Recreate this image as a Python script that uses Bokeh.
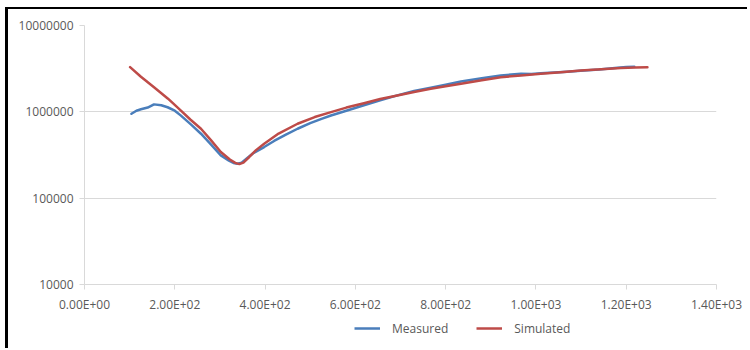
from bokeh.plotting import figure
from bokeh.layouts import column
from bokeh.models import (FixedTicker, NumeralTickFormatter, Legend, LegendItem,
                          ColumnDataSource, Range1d)
from bokeh.embed import file_html
from bokeh.resources import INLINE

# Measured data
meas_x = [104, 115, 125, 140, 154, 170, 184, 200, 213, 235, 258, 280, 302, 320, 330,
          339, 348, 360, 375, 398, 420, 445, 472, 500, 525, 546, 580, 619, 655, 693,
          730, 767, 800, 834, 880, 922, 967, 990, 1011, 1040, 1070, 1099, 1140, 1181,
          1200, 1218]
meas_y = [9.5e5, 1.03e6, 1.07e6, 1.12e6, 1.22e6, 1.19e6, 1.13e6, 1.03e6, 9.1e5, 7.2e5,
          5.58e5, 4.2e5, 3.13e5, 2.72e5, 2.56e5, 2.51e5, 2.58e5, 2.9e5, 3.35e5, 3.91e5,
          4.6e5, 5.4e5, 6.37e5, 7.4e5, 8.3e5, 9.08e5, 1.03e6, 1.19e6, 1.36e6, 1.55e6,
          1.74e6, 1.90e6, 2.06e6, 2.25e6, 2.45e6, 2.64e6, 2.76e6, 2.74e6, 2.80e6, 2.86e6,
          2.92e6, 3.0e6, 3.1e6, 3.25e6, 3.3e6, 3.33e6]

# Simulated data
sim_x = [101, 125, 154, 185, 213, 235, 258, 280, 302, 322, 334, 343, 352, 365, 380,
         398, 430, 472, 510, 546, 580, 619, 655, 693, 730, 767, 800, 834, 880, 922,
         967, 1011, 1055, 1099, 1145, 1188, 1220, 1247]
sim_y = [3.29e6, 2.55e6, 1.93e6, 1.42e6, 1.04e6, 8.1e5, 6.37e5, 4.7e5, 3.42e5, 2.8e5,
         2.56e5, 2.48e5, 2.58e5, 3.0e5, 3.6e5, 4.28e5, 5.6e5, 7.28e5, 8.7e5, 9.93e5,
         1.12e6, 1.26e6, 1.41e6, 1.55e6, 1.70e6, 1.85e6, 1.98e6, 2.11e6, 2.32e6, 2.52e6,
         2.64e6, 2.76e6, 2.88e6, 3.01e6, 3.11e6, 3.21e6, 3.26e6, 3.29e6]

x_ticks = [0, 200, 400, 600, 800, 1000, 1200, 1400]
x_labels = ["0.00E+00", "2.00E+02", "4.00E+02", "6.00E+02", "8.00E+02",
            "1.00E+03", "1.20E+03", "1.40E+03"]
y_ticks = [1e4, 1e5, 1e6, 1e7]

series_names = ["Measured", "Simulated"]
series_colors = ["#4A7EBB", "#BE4B48"]

FONT = "Open Sans"
TXT = "#595959"
GRID = "#d9d9d9"

src_m = ColumnDataSource(dict(x=meas_x, y=meas_y))
src_s = ColumnDataSource(dict(x=sim_x, y=sim_y))

# main chart
p = figure(width=742, height=306, y_axis_type="log",
           x_range=Range1d(0, 1400), y_range=Range1d(1e4, 1e7),
           output_backend="svg", toolbar_location=None,
           min_border_left=76, min_border_right=34, min_border_top=16,
           min_border_bottom=31)
p.styles = {"margin-left": "5px", "margin-top": "7px",
            "border-left": "3px solid black", "border-top": "2px solid black"}
p.outline_line_color = None
p.background_fill_color = "white"
p.border_fill_color = "white"

p.xgrid.grid_line_color = None
p.ygrid.grid_line_color = GRID
p.ygrid.grid_line_width = 1

for ax in (p.xaxis[0], p.yaxis[0]):
    ax.axis_line_color = GRID
    ax.major_tick_line_color = GRID
    ax.major_tick_out = 5
    ax.major_tick_in = 0
    ax.minor_tick_line_color = None
    ax.major_label_text_font = FONT
    ax.major_label_text_font_size = "12px"
    ax.major_label_text_color = TXT

p.xaxis[0].ticker = FixedTicker(ticks=x_ticks)
p.xaxis[0].major_label_overrides = {t: l for t, l in zip(x_ticks, x_labels)}
p.xaxis[0].major_label_standoff = 6
p.yaxis[0].ticker = FixedTicker(ticks=y_ticks)
p.yaxis[0].formatter = NumeralTickFormatter(format="0")
p.yaxis[0].major_label_standoff = 6

p.line("x", "y", source=src_m, line_color=series_colors[0], line_width=2.5,
       line_join="round", line_cap="round")
p.line("x", "y", source=src_s, line_color=series_colors[1], line_width=2.5,
       line_join="round", line_cap="round")

# legend strip below the chart
q = figure(width=742, height=35, x_range=Range1d(0, 1), y_range=Range1d(0, 1),
           output_backend="svg", toolbar_location=None,
           x_axis_location=None, y_axis_location=None,
           min_border=0, min_border_left=0, min_border_right=0,
           min_border_top=0, min_border_bottom=0)
q.styles = {"margin-left": "5px", "border-left": "3px solid black"}
q.outline_line_color = None
q.xgrid.grid_line_color = None
q.ygrid.grid_line_color = None
q.background_fill_color = "white"
q.border_fill_color = "white"
lm = q.line("x", "y", source=src_m, line_color=series_colors[0], line_width=2.5)
ls = q.line("x", "y", source=src_s, line_color=series_colors[1], line_width=2.5)

legend = Legend(items=[LegendItem(label=series_names[0], renderers=[lm]),
                       LegendItem(label=series_names[1], renderers=[ls])],
                orientation="horizontal", location=(270, 10),
                border_line_color=None, background_fill_alpha=0,
                label_text_font=FONT, label_text_font_size="12px",
                label_text_color=TXT, glyph_width=26, label_standoff=12,
                spacing=28, padding=0, margin=0)
q.add_layout(legend, "center")

layout = column(p, q, spacing=0)
open("out.html", "w").write(file_html(layout, INLINE))
